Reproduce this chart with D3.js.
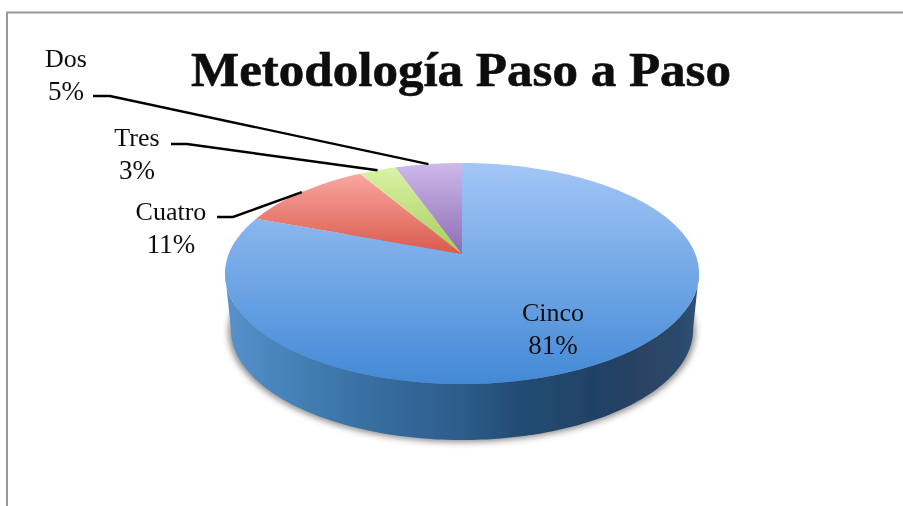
<!DOCTYPE html>
<html><head><meta charset="utf-8">
<script src="https://cdn.jsdelivr.net/npm/d3@7"></script>
<style>html,body{margin:0;padding:0;background:#fff}svg{display:block}
text{font-family:"Liberation Serif",serif;fill:#111}</style></head>
<body><div id="c"></div>
<script>
const categories=["Cinco","Cuatro","Tres","Dos"];
const values=[80.7,10.9,3.0,5.4];
const percentLabels=["81%","11%","3%","5%"];
const titleText="Metodología Paso a Paso";
const colorsTop=["#a3c6f6","#f9a6a0","#d9f3a4","#cfb9ea"];
const colorsBottom=["#4389d6","#da5a4c","#a9cd5e","#8c6cb4"];
const sideStops=[[0,"#5a92cb"],[.1,"#4a85bd"],[.22,"#3d78ac"],[.36,"#34699b"],[.5,"#2d5c8b"],[.62,"#234c74"],[.78,"#1f4266"],[.88,"#2a4263"],[.96,"#2a4a6c"],[1,"#2f5478"]];

const W=903,H=506,cx=462,cy=254,rx=233.3,depth=56,shrink=0.975;
const kP=-0.1765,aP=107.06;
const svg=d3.select("#c").append("svg").attr("width",W).attr("height",H);
const defs=svg.append("defs");
defs.append("filter").attr("id","soft").attr("x","-5%").attr("y","-5%").attr("width","110%").attr("height","110%")
  .append("feGaussianBlur").attr("stdDeviation",0.5);
defs.append("filter").attr("id","shadow").attr("x","-10%").attr("y","-10%").attr("width","120%").attr("height","120%")
  .append("feGaussianBlur").attr("stdDeviation",3);
const root=svg.append("g").attr("filter","url(#soft)");

// perspective projection of the pie disc; s narrows the lower rim
function proj(theta,dy=0,s=1){
  const u=Math.sin(theta),v=-Math.cos(theta),w=1+kP*v;
  return [cx+s*rx*u/w,cy+aP*v/w+dy];
}
const arcs=d3.pie().sort(null).startAngle(0).endAngle(2*Math.PI)(values);
const line=d3.line();
const steps=(a,b,n=Math.max(4,Math.ceil((b-a)*60)))=>d3.range(n+1).map(i=>a+(b-a)*i/n);
const full=steps(0,2*Math.PI,240);

// frame
root.append("path").attr("d",line([[7,H],[7,12.5],[W,12.5]])).attr("fill","none").attr("stroke","#979797").attr("stroke-width",2);

// shadow
root.append("path").attr("d",line(full.map(t=>proj(t,depth+2,shrink*1.01)))+"Z").attr("fill","#666").attr("opacity",.75).attr("filter","url(#shadow)");

// side wall
const sg=defs.append("linearGradient").attr("id","side").attr("gradientUnits","userSpaceOnUse")
  .attr("x1",cx-237).attr("x2",cx+237).attr("y1",0).attr("y2",0);
sideStops.forEach(s=>sg.append("stop").attr("offset",s[0]).attr("stop-color",s[1]));
const angL=-Math.PI/2-0.17, angR=Math.PI/2+0.17;
const front=steps(angR,2*Math.PI+angL,160);
root.append("path")
  .attr("d",line([...front.map(t=>proj(t,depth,shrink)),...front.slice().reverse().map(t=>proj(t,0))])+"Z")
  .attr("fill","url(#side)");

// top slices
arcs.forEach((d,i)=>{
  const pts=[[cx,cy],...steps(d.startAngle,d.endAngle).map(t=>proj(t))];
  const g=defs.append("linearGradient").attr("id","g"+i).attr("x1",0).attr("x2",0).attr("y1",0).attr("y2",1);
  g.append("stop").attr("offset",0).attr("stop-color",colorsTop[i]);
  g.append("stop").attr("offset",1).attr("stop-color",colorsBottom[i]);
  root.append("path").attr("d",line(pts)+"Z").attr("fill",`url(#g${i})`);
});

// leader lines: run from the slice's mid-angle rim point to its label
const labelLayout={
  Dos:{x:66,y1:67,y2:100,lead:[[93,96],[110,96]]},
  Tres:{x:137,y1:146,y2:179,lead:[[171,144],[187,144]]},
  Cuatro:{x:171,y1:220,y2:253,lead:[[217,217],[233,217]]},
  Cinco:{x:553,y1:321,y2:354}
};
arcs.forEach((d,i)=>{
  const L=labelLayout[categories[i]];
  if(L.lead){
    const e=proj((d.startAngle+d.endAngle)/2);
    root.append("path").attr("d",line([...L.lead,e])).attr("fill","none").attr("stroke","#000").attr("stroke-width",2.4);
  }
  root.append("text").attr("x",L.x).attr("y",L.y1).attr("text-anchor","middle").attr("font-size",26).text(categories[i]);
  root.append("text").attr("x",L.x).attr("y",L.y2).attr("text-anchor","middle").attr("font-size",27).text(percentLabels[i]);
});

root.append("text").attr("x",461).attr("y",86).attr("text-anchor","middle")
  .attr("font-size",48).attr("font-weight","bold").attr("stroke","#111").attr("stroke-width",0.6).attr("textLength",540).attr("lengthAdjust","spacingAndGlyphs").text(titleText);
</script></body></html>
